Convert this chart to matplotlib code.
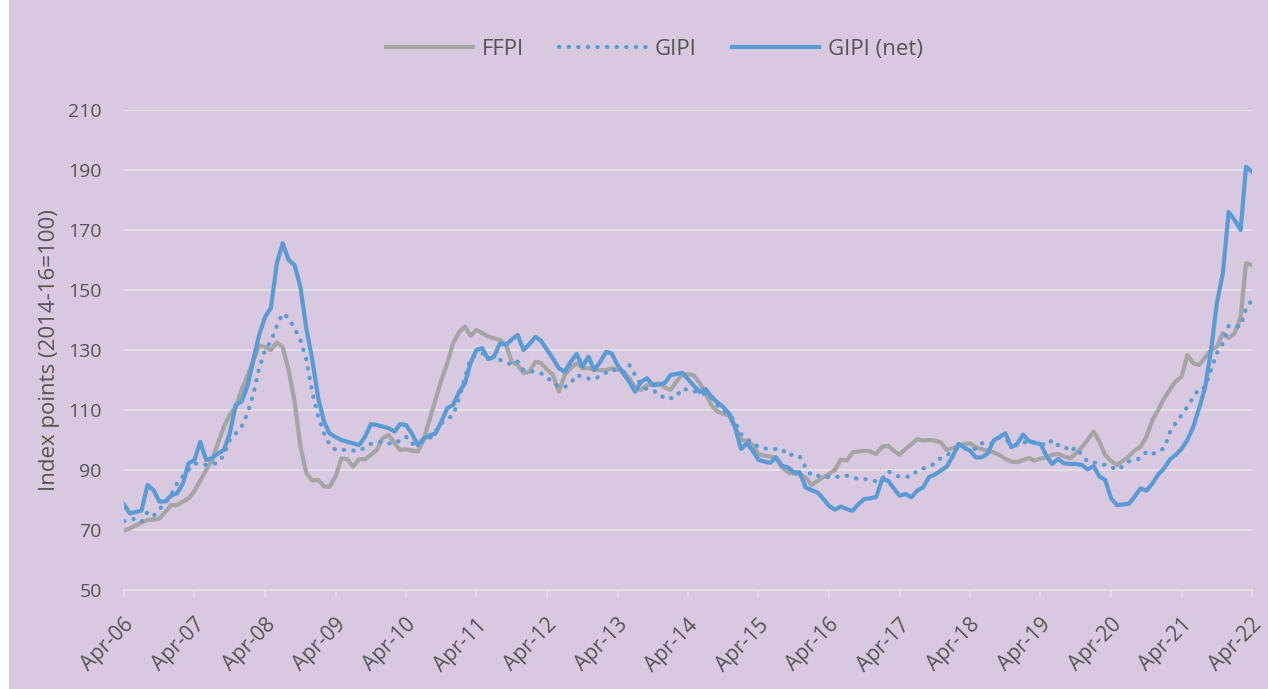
import matplotlib
matplotlib.use("Agg")
import matplotlib.pyplot as plt
import matplotlib.dates as mdates
import matplotlib.transforms as mtrans
from matplotlib.patches import Rectangle
import pandas as pd

# monthly values, Apr-06 .. Apr-22 (one row = Apr..Mar)
ffpi = [
    69.8, 70.5, 71.5, 72.5, 73.3, 73.5, 73.8, 76.0, 78.3, 78.3, 79.5, 80.5,
    83.0, 86.5, 90.0, 93.3, 99.0, 104.4, 108.5, 111.0, 116.7, 121.5, 126.7, 131.5,
    131.0, 130.0, 132.5, 131.0, 123.3, 112.8, 97.8, 89.0, 86.5, 86.7, 84.5, 84.4,
    87.8, 93.9, 93.6, 91.1, 93.6, 93.6, 95.0, 96.7, 100.6, 101.7, 98.9, 96.7,
    96.9, 96.5, 96.1, 100.0, 106.7, 113.3, 120.0, 125.6, 132.2, 136.0, 137.8, 134.7,
    136.7, 135.6, 134.5, 133.9, 133.3, 131.7, 126.1, 125.0, 122.2, 122.8, 126.1, 125.6,
    123.5, 121.7, 116.1, 121.7, 124.0, 125.6, 123.9, 123.9, 123.5, 123.3, 123.3, 123.9,
    123.5, 122.8, 120.6, 117.2, 116.7, 118.3, 118.5, 118.9, 117.5, 116.7, 119.5, 121.7,
    122.0, 121.5, 119.0, 115.5, 111.5, 109.5, 108.7, 108.1, 104.2, 100.3, 99.5, 98.5,
    95.3, 94.8, 94.5, 94.0, 90.9, 89.2, 88.8, 88.5, 87.6, 85.0, 86.4, 87.5,
    88.7, 90.0, 93.5, 93.1, 95.9, 96.2, 96.4, 96.2, 95.3, 97.8, 98.1, 96.5,
    95.1, 97.0, 98.5, 100.3, 99.8, 100.0, 99.8, 99.2, 96.7, 97.3, 98.0, 98.7,
    98.9, 97.6, 97.0, 96.4, 95.9, 95.0, 93.7, 92.8, 92.6, 93.3, 94.0, 93.1,
    93.8, 94.2, 95.1, 95.4, 94.5, 93.9, 95.5, 97.5, 100.0, 102.8, 99.4, 95.0,
    93.0, 91.7, 93.0, 94.5, 96.5, 97.8, 101.1, 106.7, 110.0, 113.9, 117.0, 119.5,
    121.1, 128.3, 125.6, 125.0, 127.5, 130.0, 131.1, 135.6, 134.0, 135.6, 141.1, 158.9,
    158.3,
]

gipi = [
    73.0, 73.3, 73.9, 72.8, 76.0, 74.7, 76.9, 79.0, 81.7, 85.6, 88.0, 90.0,
    92.2, 92.0, 91.7, 92.0, 92.4, 95.0, 100.0, 102.2, 104.4, 108.9, 115.6, 123.9,
    130.0, 133.0, 138.0, 142.2, 140.6, 137.2, 133.3, 126.7, 116.0, 107.8, 102.2, 98.5,
    96.7, 96.7, 96.7, 96.5, 96.4, 97.5, 98.7, 99.2, 99.4, 98.9, 98.7, 100.0,
    101.1, 98.7, 99.0, 99.4, 100.5, 103.0, 105.6, 107.0, 108.3, 113.9, 121.1, 127.2,
    128.5, 128.9, 127.8, 126.7, 126.7, 126.0, 125.0, 126.1, 123.3, 123.1, 122.6, 122.2,
    121.0, 119.0, 117.8, 117.6, 118.9, 121.7, 121.0, 120.5, 120.2, 121.5, 122.5, 123.6,
    123.0, 122.6, 125.0, 121.7, 118.3, 116.9, 116.3, 115.8, 113.7, 113.9, 114.5, 117.2,
    116.7, 116.2, 115.9, 115.2, 114.8, 111.5, 109.8, 108.7, 105.9, 102.0, 100.3, 99.2,
    97.6, 97.2, 97.0, 97.0, 97.0, 94.8, 95.3, 94.5, 90.9, 88.1, 88.1, 88.0,
    87.6, 87.7, 87.8, 88.1, 87.5, 87.0, 87.0, 86.8, 86.2, 87.0, 89.6, 88.4,
    87.8, 87.8, 87.8, 89.8, 90.5, 91.1, 92.2, 94.0, 95.0, 95.9, 97.6, 97.3,
    97.0, 97.0, 98.9, 98.9, 98.9, 100.9, 100.0, 98.9, 98.1, 99.0, 99.8, 99.3,
    98.9, 98.1, 100.0, 98.3, 98.1, 96.1, 97.6, 95.0, 92.8, 92.5, 92.2, 91.7,
    91.0, 90.0, 91.3, 92.8, 93.4, 93.9, 96.1, 95.3, 96.3, 97.2, 102.8, 105.6,
    108.3, 111.1, 114.2, 117.2, 117.5, 123.3, 129.0, 132.2, 138.0, 137.9, 137.8, 143.9,
    146.7,
]

gipi_net = [
    78.5, 75.5, 76.0, 76.5, 85.0, 83.3, 79.5, 79.5, 81.5, 82.2, 85.6, 92.2,
    93.3, 99.4, 93.3, 94.0, 95.5, 96.7, 102.2, 111.7, 112.8, 118.0, 127.0, 135.0,
    141.0, 144.0, 158.9, 165.6, 160.0, 158.3, 151.0, 137.0, 127.0, 114.0, 106.0, 102.2,
    101.0, 100.0, 99.4, 98.9, 98.3, 101.1, 105.3, 105.0, 104.5, 103.9, 102.8, 105.3,
    105.0, 102.2, 98.3, 100.5, 101.5, 102.2, 106.1, 110.6, 111.7, 116.0, 119.0, 125.6,
    130.0, 130.6, 127.0, 127.8, 132.2, 131.7, 133.5, 135.0, 130.0, 132.0, 134.4, 133.0,
    130.0, 127.2, 123.9, 122.8, 126.0, 128.7, 124.4, 127.8, 123.3, 126.0, 129.4, 128.9,
    125.0, 122.2, 119.4, 116.1, 119.4, 120.6, 118.3, 118.5, 118.9, 121.7, 122.0, 122.4,
    120.3, 118.1, 116.0, 117.0, 114.2, 112.5, 110.9, 108.7, 104.2, 97.0, 98.9, 96.5,
    93.4, 92.8, 92.4, 94.2, 91.4, 90.9, 89.2, 89.2, 84.2, 83.3, 82.5, 80.5,
    78.0, 76.8, 77.8, 77.0, 76.4, 78.7, 80.3, 80.6, 81.0, 87.0, 86.4, 84.0,
    81.4, 82.0, 80.9, 83.1, 84.2, 87.6, 88.5, 89.8, 91.1, 94.5, 98.7, 97.5,
    96.4, 94.2, 94.2, 95.5, 99.8, 101.0, 102.2, 97.6, 98.7, 101.8, 99.6, 99.0,
    98.7, 94.8, 92.0, 93.7, 92.2, 92.0, 92.0, 91.7, 90.2, 91.3, 87.8, 86.7,
    80.6, 78.3, 78.5, 78.7, 81.1, 83.9, 83.1, 85.5, 88.5, 90.6, 93.6, 95.0,
    97.0, 100.0, 104.4, 110.6, 117.5, 130.0, 145.6, 155.6, 176.0, 173.3, 170.0, 191.1,
    189.4,
]

dates = pd.date_range("2006-04-01", "2022-04-01", freq="MS")
years = pd.date_range("2006-04-01", "2022-04-01", freq="12MS")

bg = "#d8c8e0"
txt = "#555555"
blue = "#5b9bd5"
grey = "#a5a5a5"
gridc = "#e4dee6"

plt.rcParams["font.family"] = ["Open Sans", "DejaVu Sans"]

fig = plt.figure(figsize=(12.68, 6.89), dpi=100, facecolor="white")
fig.patches.append(Rectangle((9 / 1268, 0), 1, 1, transform=fig.transFigure,
                             facecolor=bg, edgecolor="none", zorder=-10))
ax = fig.add_axes([124 / 1268, 1 - 590 / 689, 1128 / 1268, 480 / 689])
ax.set_facecolor(bg)

ax.plot(dates, ffpi, color=grey, lw=3, label="FFPI", zorder=3)
ax.plot(dates, gipi, color=blue, lw=3, linestyle=(0, (0.1, 2.2)),
        dash_capstyle="round", label="GIPI", zorder=4)
ax.plot(dates, gipi_net, color=blue, lw=3, label="GIPI (net)", zorder=5)

ax.set_ylim(50, 210)
ax.set_yticks(range(50, 211, 20))
ax.set_xlim(dates[0], dates[-1])
ax.set_xticks(years)
ax.xaxis.set_major_formatter(mdates.DateFormatter("%b-%y"))

ax.grid(axis="y", color=gridc, lw=1.5, zorder=0)
ax.set_axisbelow(True)
for s in ["left", "right", "top"]:
    ax.spines[s].set_visible(False)
ax.spines["bottom"].set_color(gridc)
ax.spines["bottom"].set_linewidth(1.5)

ax.tick_params(axis="y", length=0, pad=16, labelsize=14, labelcolor=txt)
ax.tick_params(axis="x", length=5, width=1.2, color=gridc, direction="out",
               labelsize=15, labelcolor=txt, pad=18)
shift = mtrans.ScaledTranslation(7 / 100, 0, fig.dpi_scale_trans)
for lab in ax.get_xticklabels():
    lab.set_rotation(45)
    lab.set_ha("right")
    lab.set_va("center")
    lab.set_rotation_mode("anchor")
    lab.set_transform(lab.get_transform() + shift)

ax.set_ylabel("Index points (2014-16=100)", fontsize=16, color=txt, labelpad=6)

fig.legend(loc="center", bbox_to_anchor=(0.516, 0.928), ncol=3, frameon=False,
           fontsize=16, labelcolor=txt, handlelength=3.9, columnspacing=1.6,
           handletextpad=0.4)

fig.savefig("out.png", dpi=100, facecolor=fig.get_facecolor())
